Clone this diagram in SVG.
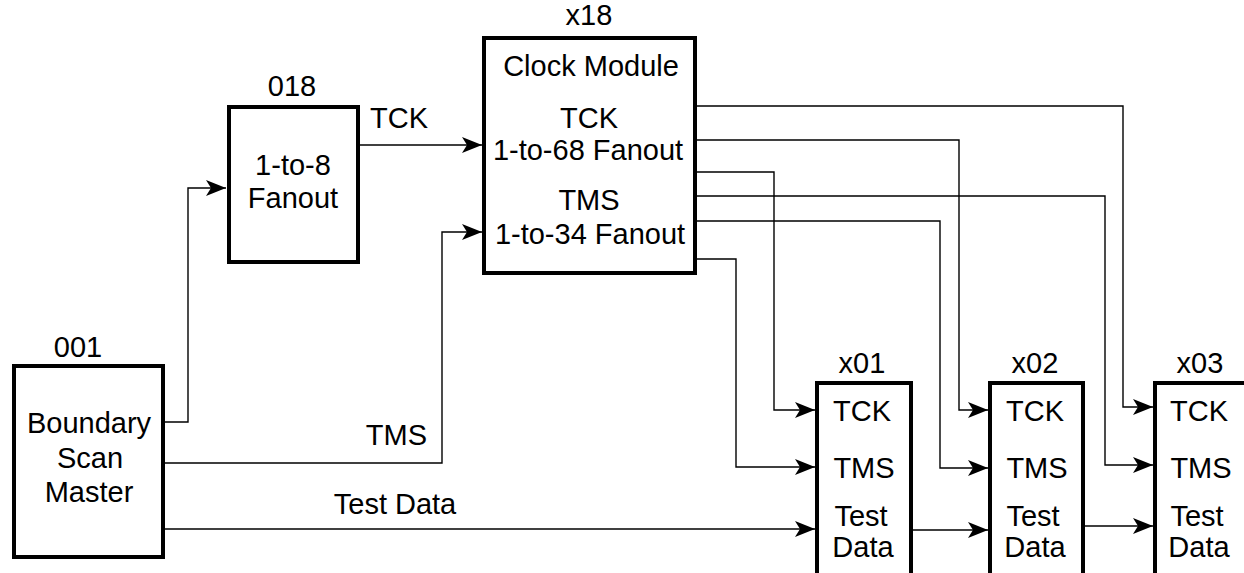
<svg xmlns="http://www.w3.org/2000/svg" width="1244" height="573" viewBox="0 0 1244 573">
  <style>
    .box { fill: #fff; stroke: #000; stroke-width: 4; }
    .wire { fill: none; stroke: #000; stroke-width: 1.4; }
    text { font-family: "Liberation Sans", Arial, Helvetica, sans-serif; font-size: 29px; fill: #000; }
    .c { text-anchor: middle; }
  </style>
  <defs>
    <marker id="arrow" markerUnits="userSpaceOnUse" markerWidth="24" markerHeight="20" refX="21" refY="9" orient="auto">
      <path d="M21,9 L1,1 L6,9 L1,17 Z" fill="#000"/>
    </marker>
  </defs>

  <rect width="1244" height="573" fill="#fff"/>

  <!-- connectors -->
  <g id="connectors">
    <path class="wire" d="M163,422 H188 V188 H226" marker-end="url(#arrow)"/>
    <path class="wire" d="M358,145 H482" marker-end="url(#arrow)"/>
    <path class="wire" d="M163,463 H442 V232 H482" marker-end="url(#arrow)"/>
    <path class="wire" d="M163,529 H815" marker-end="url(#arrow)"/>
    <path class="wire" d="M695,106 H1123 V407 H1153" marker-end="url(#arrow)"/>
    <path class="wire" d="M695,140 H959 V410 H988" marker-end="url(#arrow)"/>
    <path class="wire" d="M695,172 H774 V410 H815" marker-end="url(#arrow)"/>
    <path class="wire" d="M695,196 H1105 V465 H1153" marker-end="url(#arrow)"/>
    <path class="wire" d="M695,221 H940 V468 H988" marker-end="url(#arrow)"/>
    <path class="wire" d="M695,259 H736 V467 H815" marker-end="url(#arrow)"/>
    <path class="wire" d="M911,530 H988" marker-end="url(#arrow)"/>
    <path class="wire" d="M1083,526 H1153" marker-end="url(#arrow)"/>
    <text x="370" y="128">TCK</text>
    <text x="427" y="445" text-anchor="end">TMS</text>
    <text x="395" y="514" class="c">Test Data</text>
  </g>

  <!-- boundary scan master -->
  <g id="master">
    <rect class="box" x="14" y="366" width="149" height="191"/>
    <text x="78" y="357" class="c">001</text>
    <text x="89" y="433" class="c">Boundary</text>
    <text x="90" y="468" class="c">Scan</text>
    <text x="89" y="502" class="c">Master</text>
  </g>

  <!-- 1-to-8 fanout -->
  <g id="fanout8">
    <rect class="box" x="229" y="107" width="129" height="155"/>
    <text x="292" y="96" class="c">018</text>
    <text x="293" y="175" class="c">1-to-8</text>
    <text x="293" y="208" class="c">Fanout</text>
  </g>

  <!-- clock module -->
  <g id="clock">
    <rect class="box" x="484" y="38" width="211" height="235"/>
    <text x="589" y="25" class="c">x18</text>
    <text x="591" y="76" class="c">Clock Module</text>
    <text x="589" y="128" class="c">TCK</text>
    <text x="588" y="160" class="c">1-to-68 Fanout</text>
    <text x="589" y="210" class="c">TMS</text>
    <text x="590" y="244" class="c">1-to-34 Fanout</text>
  </g>

  <!-- target boards (open at the bottom edge) -->
  <g id="x01">
    <rect class="box" x="817" y="383" width="94" height="220"/>
    <text x="862" y="373" class="c">x01</text>
    <text x="862" y="421" class="c">TCK</text>
    <text x="864" y="478" class="c">TMS</text>
    <text x="861" y="526" class="c">Test</text>
    <text x="863" y="557" class="c">Data</text>
  </g>

  <g id="x02">
    <rect class="box" x="990" y="383" width="93" height="220"/>
    <text x="1035" y="373" class="c">x02</text>
    <text x="1035" y="421" class="c">TCK</text>
    <text x="1037" y="478" class="c">TMS</text>
    <text x="1033" y="526" class="c">Test</text>
    <text x="1035" y="557" class="c">Data</text>
  </g>

  <g id="x03">
    <rect class="box" x="1155" y="383" width="94" height="220"/>
    <text x="1200" y="373" class="c">x03</text>
    <text x="1199" y="421" class="c">TCK</text>
    <text x="1201" y="478" class="c">TMS</text>
    <text x="1197" y="526" class="c">Test</text>
    <text x="1199" y="557" class="c">Data</text>
  </g>
</svg>
